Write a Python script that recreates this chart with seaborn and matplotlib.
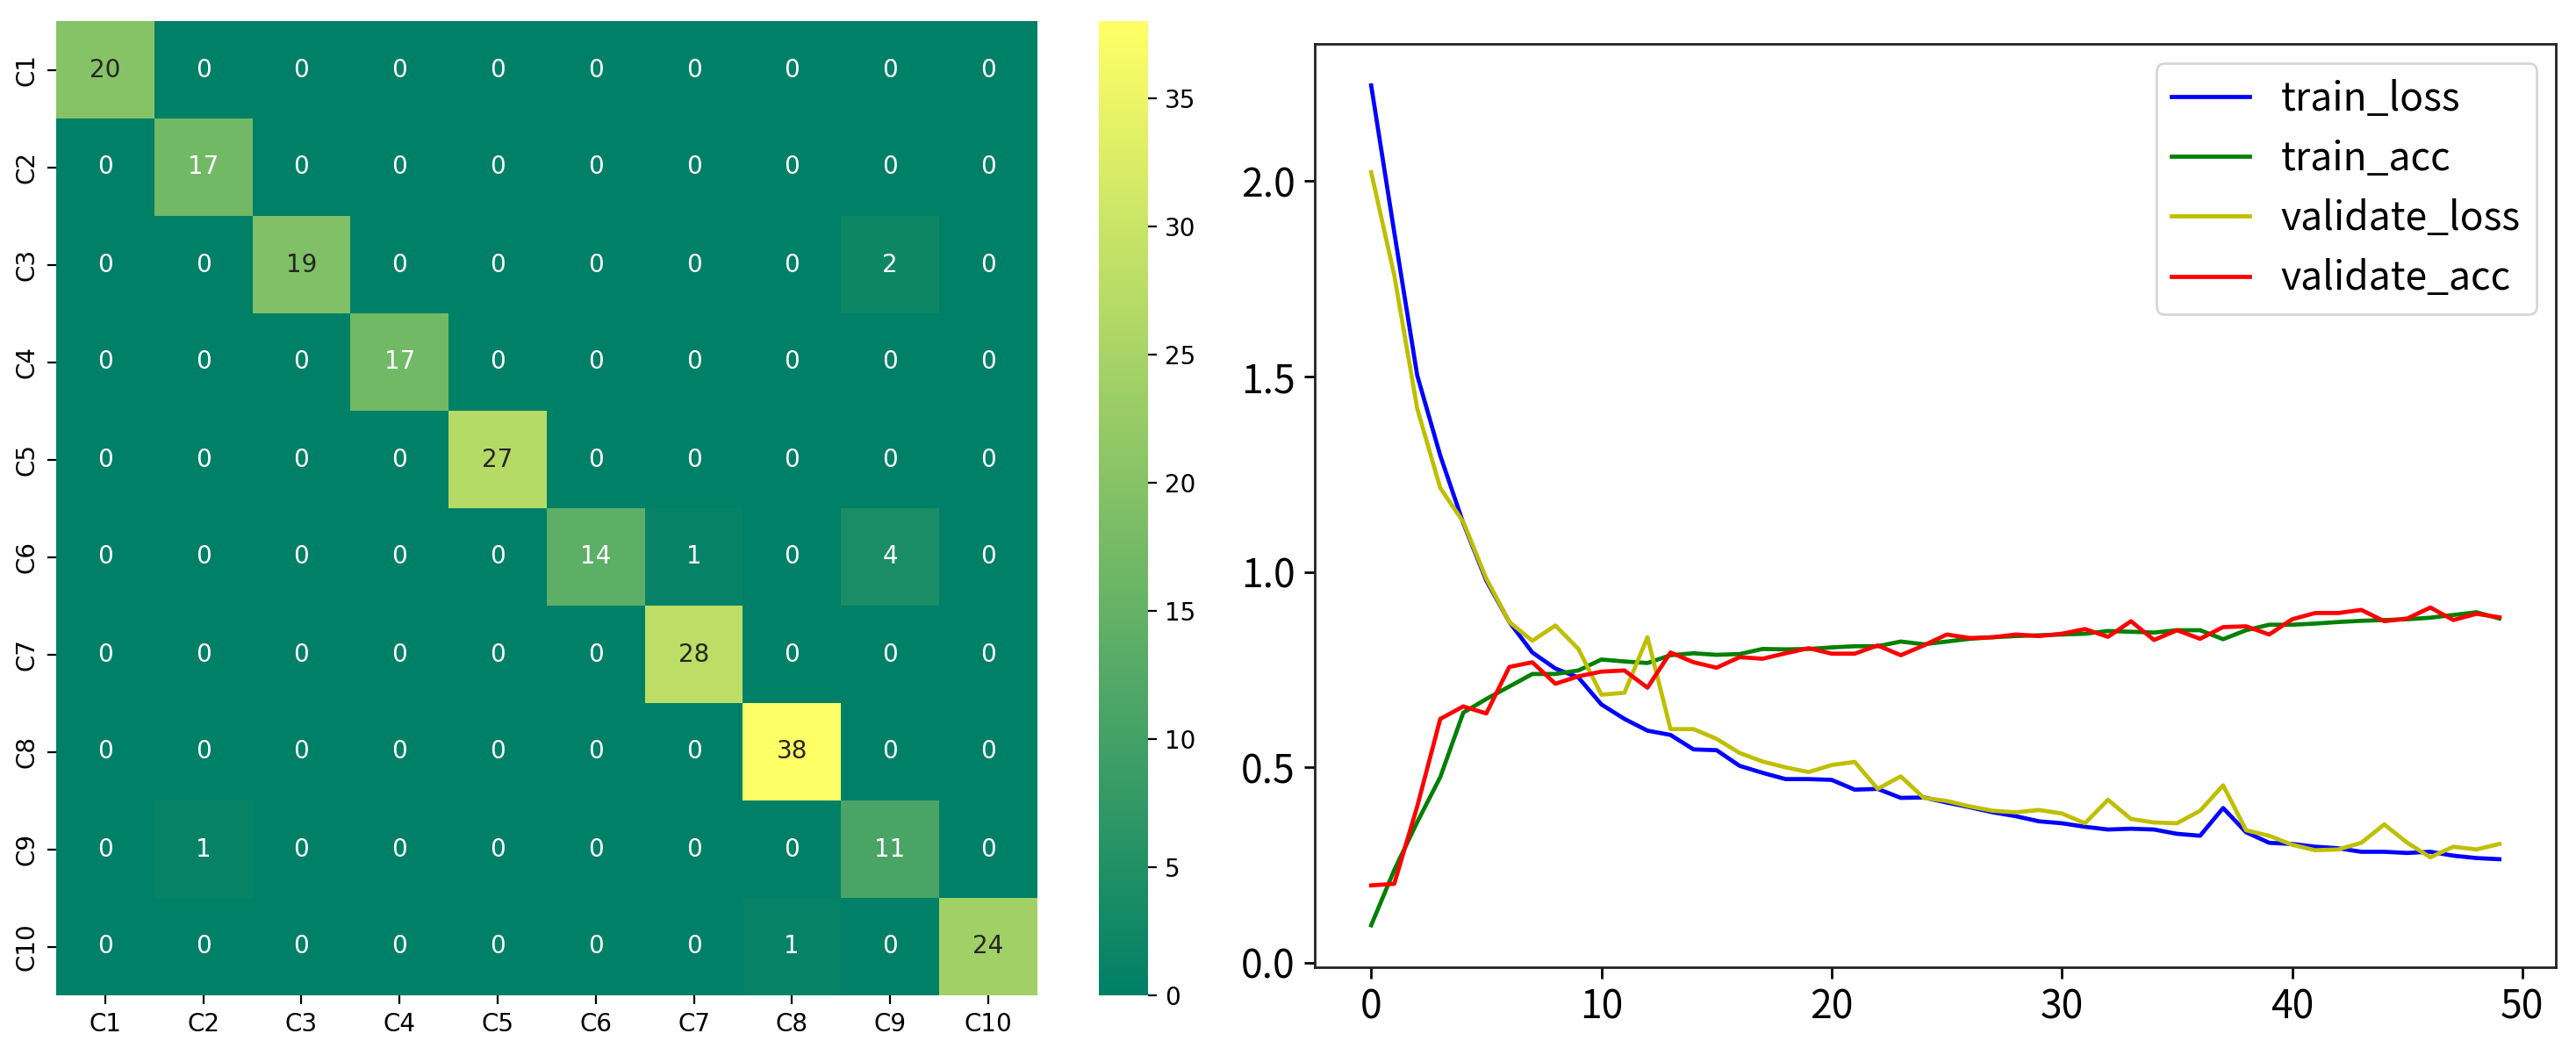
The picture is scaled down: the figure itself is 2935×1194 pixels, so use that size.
import numpy as np
import pandas as pd
import matplotlib
matplotlib.use("Agg")
import matplotlib.pyplot as plt
import seaborn as sns
from matplotlib.font_manager import FontProperties

# ---------------- data ----------------
classes = ["C1", "C2", "C3", "C4", "C5", "C6", "C7", "C8", "C9", "C10"]
cm_rows = [
    [20, 0, 0, 0, 0, 0, 0, 0, 0, 0],
    [0, 17, 0, 0, 0, 0, 0, 0, 0, 0],
    [0, 0, 19, 0, 0, 0, 0, 0, 2, 0],
    [0, 0, 0, 17, 0, 0, 0, 0, 0, 0],
    [0, 0, 0, 0, 27, 0, 0, 0, 0, 0],
    [0, 0, 0, 0, 0, 14, 1, 0, 4, 0],
    [0, 0, 0, 0, 0, 0, 28, 0, 0, 0],
    [0, 0, 0, 0, 0, 0, 0, 38, 0, 0],
    [0, 1, 0, 0, 0, 0, 0, 0, 11, 0],
    [0, 0, 0, 0, 0, 0, 0, 1, 0, 24],
]

epochs = list(range(50))
train_loss = [2.245, 1.87, 1.503, 1.298, 1.125, 0.978, 0.872, 0.794, 0.753, 0.730,
              0.661, 0.624, 0.594, 0.583, 0.546, 0.544, 0.504, 0.486, 0.470, 0.470,
              0.468, 0.443, 0.445, 0.422, 0.423, 0.410, 0.398, 0.385, 0.375, 0.362,
              0.357, 0.348, 0.341, 0.343, 0.341, 0.330, 0.325, 0.396, 0.334, 0.307,
              0.304, 0.297, 0.293, 0.284, 0.284, 0.281, 0.284, 0.274, 0.268, 0.265]
train_acc = [0.096, 0.237, 0.360, 0.475, 0.640, 0.675, 0.707, 0.739, 0.739, 0.748,
             0.776, 0.771, 0.767, 0.787, 0.792, 0.788, 0.790, 0.803, 0.802, 0.803,
             0.807, 0.810, 0.810, 0.822, 0.815, 0.822, 0.829, 0.833, 0.836, 0.838,
             0.840, 0.842, 0.849, 0.847, 0.845, 0.851, 0.851, 0.828, 0.851, 0.865,
             0.865, 0.868, 0.872, 0.875, 0.877, 0.879, 0.883, 0.890, 0.897, 0.881]
validate_loss = [2.023, 1.76, 1.418, 1.215, 1.128, 0.983, 0.872, 0.824, 0.863, 0.803,
                 0.686, 0.691, 0.833, 0.598, 0.598, 0.573, 0.537, 0.515, 0.500, 0.488,
                 0.506, 0.514, 0.445, 0.477, 0.422, 0.414, 0.400, 0.389, 0.385, 0.391,
                 0.382, 0.357, 0.417, 0.368, 0.359, 0.357, 0.389, 0.454, 0.339, 0.325,
                 0.302, 0.288, 0.290, 0.307, 0.354, 0.307, 0.270, 0.297, 0.290, 0.304]
validate_acc = [0.198, 0.202, 0.400, 0.624, 0.656, 0.638, 0.757, 0.769, 0.714, 0.733,
                0.745, 0.748, 0.704, 0.794, 0.769, 0.755, 0.782, 0.778, 0.792, 0.805,
                0.791, 0.791, 0.812, 0.787, 0.812, 0.840, 0.831, 0.833, 0.840, 0.836,
                0.842, 0.854, 0.834, 0.874, 0.826, 0.851, 0.829, 0.859, 0.861, 0.840,
                0.879, 0.895, 0.895, 0.903, 0.874, 0.881, 0.909, 0.877, 0.893, 0.884]

series_names = ["train_loss", "train_acc", "validate_loss", "validate_acc"]
series_colors = ["b", "g", "y", "r"]

# ---------------- figure ----------------
DPI = 200
fig = plt.figure(figsize=(2935 / DPI, 1194 / DPI), dpi=DPI)

ax_hm = fig.add_axes([64 / 2935, 60 / 1194, 1117.7 / 2935, 1110 / 1194])
ax_cb = fig.add_axes([1252 / 2935, 60 / 1194, 55.6 / 2935, 1110 / 1194])
ax_ln = fig.add_axes([1498 / 2935, 92 / 1194, 1414 / 2935, 1052.5 / 1194])

cm_df = pd.DataFrame(cm_rows, index=classes, columns=classes)
sns.heatmap(cm_df, ax=ax_hm, cbar_ax=ax_cb, cmap="summer", annot=True, fmt="d",
            annot_kws={"size": 10})
ax_hm.tick_params(axis="both", labelsize=10, length=3.5, width=0.8)
ax_hm.set_yticklabels(classes, rotation=90, va="center")
ax_hm.set_xticklabels(classes, rotation=0)
ax_cb.tick_params(labelsize=10, length=3.5, width=0.8)

# ---------------- training curves ----------------
fp = FontProperties(family=["Noto Sans CJK SC", "DejaVu Sans"], size=16)
series_values = [train_loss, train_acc, validate_loss, validate_acc]
for name, col, vals in zip(series_names, series_colors, series_values):
    sns.lineplot(x=epochs, y=vals, ax=ax_ln, color=col, label=name, linewidth=1.7)

ax_ln.set_xticks([0, 10, 20, 30, 40, 50])
ax_ln.set_yticks([0.0, 0.5, 1.0, 1.5, 2.0])
ax_ln.tick_params(axis="both", length=4.5, width=1.0)
for lab in ax_ln.get_xticklabels() + ax_ln.get_yticklabels():
    lab.set_fontproperties(fp)
for sp in ax_ln.spines.values():
    sp.set_linewidth(1.0)
    sp.set_color("#222222")
ax_ln.legend(loc="upper right", prop=fp)

fig.savefig("out.png", dpi=DPI)
